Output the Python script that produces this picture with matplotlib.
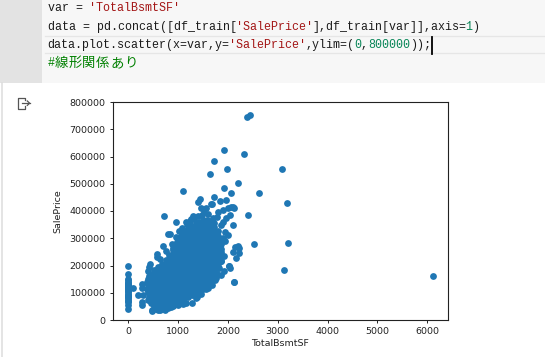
import matplotlib
matplotlib.use('Agg')
import matplotlib.pyplot as plt
from matplotlib.patches import Rectangle
from matplotlib.lines import Line2D

W, H, DPI = 545, 357, 100

# ---------------- data (prices in thousands of dollars) ----------------
# houses without basement (TotalBsmtSF = 0)
zero_bsmt_price = [198, 168, 150, 146, 141, 137, 133, 129, 125, 121, 117, 113,
                   109, 105, 101, 97, 93, 89, 85, 80, 75, 70, 66, 55, 40]

# dense core of the cloud: one column of prices per basement size
core_sf = [450, 525, 600, 675, 750, 825, 900, 975, 1050, 1125, 1200, 1275,
           1350, 1425, 1500, 1575, 1650, 1725, 1800, 1870]
core_price = [
    [62, 76, 91, 106, 121, 136, 151, 166],
    [52, 67, 82, 97, 112, 127, 142, 157, 172, 184],
    [48, 63, 78, 93, 108, 123, 138, 153, 168, 183, 196],
    [50, 64, 79, 94, 109, 124, 139, 154, 169, 184, 199, 207],
    [55, 70, 85, 100, 115, 130, 145, 160, 175, 190, 205, 220],
    [60, 74, 89, 104, 119, 134, 149, 164, 179, 194, 209, 224, 239],
    [62, 77, 92, 107, 122, 137, 152, 167, 182, 197, 212, 227, 242, 257, 265],
    [68, 82, 97, 112, 127, 142, 157, 172, 187, 202, 217, 232, 247, 262, 277, 285],
    [72, 87, 102, 117, 132, 147, 162, 177, 192, 207, 222, 237, 252, 267, 282, 297, 310],
    [79, 94, 109, 124, 139, 154, 169, 184, 199, 214, 229, 244, 259, 274, 289, 304, 319, 325],
    [84, 99, 114, 129, 144, 159, 174, 189, 204, 219, 234, 249, 264, 279, 294, 309, 324, 338],
    [92, 106, 121, 136, 151, 166, 181, 196, 211, 226, 241, 256, 271, 286, 301, 316, 331, 345],
    [98, 113, 128, 143, 158, 173, 188, 203, 218, 233, 248, 263, 278, 293, 308, 323, 338, 353],
    [106, 120, 135, 150, 165, 180, 195, 210, 225, 240, 255, 270, 285, 300, 315, 330, 345, 360],
    [113, 128, 143, 158, 173, 188, 203, 218, 233, 248, 263, 278, 293, 308, 323, 338, 353, 366],
    [124, 138, 153, 168, 183, 198, 213, 228, 243, 258, 273, 288, 303, 318, 333, 348, 368],
    [140, 155, 170, 185, 200, 215, 230, 245, 260, 275, 290, 305, 320, 335, 350, 364],
    [163, 177, 192, 207, 222, 237, 252, 267, 282, 297, 312, 327, 342, 355],
    [190, 205, 220, 235, 250, 265, 280, 295, 310, 328],
    [215, 232, 248, 262, 280, 296],
]

# scattered points around the core
edge_sf = [88, 200, 300, 268, 268, 268, 268, 375, 388, 400, 405, 410, 420, 470,
           395, 380, 400, 410, 430,
           481, 560, 640, 730, 800, 900, 1000, 1100, 1282, 1382, 1570, 1737,
           581, 568, 689, 715, 789, 836, 961,
           1150, 1250, 1300, 1102, 1403, 1436, 1470, 1570, 1663, 1690, 1723,
           1804, 1844, 1904, 1964, 2004, 2037, 2070, 2104, 2131, 2103,
           1870, 1937, 1904, 1837, 1817, 1864, 1823, 1930, 2030, 2024, 2037,
           1870, 2104, 2151, 2217, 2170, 2210, 2230, 2003, 2124,
           1930, 1950, 1900, 1960, 1780, 1760,
           640, 760, 870, 950, 1010, 1080, 1180, 1230, 1320, 1400, 1480, 1530,
           1610, 1700,
           600, 850, 1150, 1350, 1460, 1610, 1690, 1790]
edge_price = [119, 92, 92, 131, 116, 67, 55, 141, 180, 128, 101, 86, 160, 33,
              72, 115, 150, 195, 205,
              37, 40, 37, 37, 45, 50, 55, 60, 61, 83, 113, 147,
              241, 232, 273, 382, 314, 314, 360,
              358, 372, 380, 472, 434, 443, 410, 410, 426, 424, 450,
              397, 438, 403, 440, 410, 385, 416, 416, 412, 348,
              349, 324, 300, 275, 264, 218, 190, 180, 200, 199, 190,
              165, 251, 269, 265, 226, 270, 245, 312, 138,
              235, 290, 360, 375, 378, 155,
              225, 252, 280, 305, 328, 336, 352, 365, 372, 380, 386, 396,
              388, 376,
              35, 47, 64, 80, 94, 116, 130, 168]

# far outliers
outlier_sf = [2384, 2438, 1924, 2324, 1723, 1984, 3085, 1643, 2204, 1924,
              2064, 2624, 3185, 2400, 2524, 3205, 3125, 6110, 2123]
outlier_price = [746, 752, 624, 609, 583, 553, 553, 536, 504, 483,
                 465, 465, 428, 385, 278, 281, 182, 160, 138]

x_vals = [0] * len(zero_bsmt_price)
y_vals = list(zero_bsmt_price)
for sf, col in zip(core_sf, core_price):
    x_vals += [sf] * len(col)
    y_vals += col
x_vals += edge_sf + outlier_sf
y_vals += edge_price + outlier_price
y_vals = [v * 1000 for v in y_vals]

# ---------------- figure ----------------
fig = plt.figure(figsize=(W / DPI, H / DPI), dpi=DPI)
fig.patch.set_facecolor('white')

bg = fig.add_axes([0, 0, 1, 1])
bg.set_xlim(0, W)
bg.set_ylim(H, 0)
bg.axis('off')

# notebook code cell
bg.add_patch(Rectangle((0, 0), 41.7, 83.3, facecolor='#e3e3e3', edgecolor='none'))
bg.add_patch(Rectangle((41.7, 0), W - 41.7, 83.3, facecolor='#f7f7f7', edgecolor='none'))
bg.add_line(Line2D([45, W], [36.3, 36.3], color='#e6e6e6', lw=0.9))
bg.add_line(Line2D([45, W], [53.3, 53.3], color='#e6e6e6', lw=0.9))
bg.add_line(Line2D([1.5, 1.5], [83.3, H], color='#dcdcdc', lw=1.1))

K, R, G, C = '#1b1b1b', '#a31515', '#098658', '#008000'
code_lines = [
    [("var = ", K), ("'TotalBsmtSF'", R)],
    [("data = pd.concat([df_train[", K), ("'SalePrice'", R),
     ("],df_train[var]],axis=", K), ("1", G), (")", K)],
    [("data.plot.scatter(x=var,y=", K), ("'SalePrice'", R), (",ylim=(", K),
     ("0", G), (",", K), ("800000", G), ("));", K)],
]
x0, cw = 47.7, 6.96
baselines = [10.8, 29.6, 48.4, 66.0]
for line, base in zip(code_lines, baselines):
    col = 0
    for txt, colr in line:
        bg.text(x0 + col * cw, base, txt, family='Liberation Mono', fontsize=8.35,
                color=colr, va='baseline', ha='left')
        col += len(txt)
# comment line
bg.text(x0, baselines[3], '#', family='Liberation Mono', fontsize=8.35,
        color=C, va='baseline', ha='left')
for i, ch in enumerate('線形関係あり'):
    bg.text(x0 + (1 + 2 * i) * cw - 0.2, baselines[3] + 0.8, ch,
            family=['Noto Sans CJK JP', 'DejaVu Sans'], fontsize=9.6,
            color=C, va='baseline', ha='left')
# cursor
bg.add_line(Line2D([431.8, 431.8], [37.3, 54.0], color='black', lw=1.3))

# output icon
ic = '#555555'
bg.add_line(Line2D([25, 25, 17.5, 17.5, 25, 25], [100.3, 97.5, 97.5, 108.8, 108.8, 106],
                   color=ic, lw=0.9))
bg.add_line(Line2D([21.5, 29.5], [103.2, 103.2], color=ic, lw=0.9))
bg.add_line(Line2D([27.3, 29.6, 27.3], [101.0, 103.2, 105.4], color=ic, lw=0.9))

# ---------------- scatter axes ----------------
left, right, top, bottom = 113, 448, 102, 320
ax = fig.add_axes([left / W, 1 - bottom / H, (right - left) / W, (bottom - top) / H])
ax.scatter(x_vals, y_vals, s=24, color='#1f77b4', linewidths=0)
ax.set_ylim(0, 800000)
ax.set_xticks([0, 1000, 2000, 3000, 4000, 5000, 6000])
ax.set_yticks(range(0, 800001, 100000))
ax.ticklabel_format(style='plain', useOffset=False)
ax.tick_params(labelsize=6.8, length=2.5, width=0.7, pad=2.8, colors='#222222')
for sp in ax.spines.values():
    sp.set_linewidth(0.8)
    sp.set_color('#222222')
ax.set_xlabel('TotalBsmtSF', fontsize=6.8, color='#222222')
ax.set_ylabel('SalePrice', fontsize=6.8, color='#222222')
ax.xaxis.set_label_coords(0.5, -0.085)
ax.yaxis.set_label_coords(-0.152, 0.5)

fig.savefig('out.png', dpi=DPI)
